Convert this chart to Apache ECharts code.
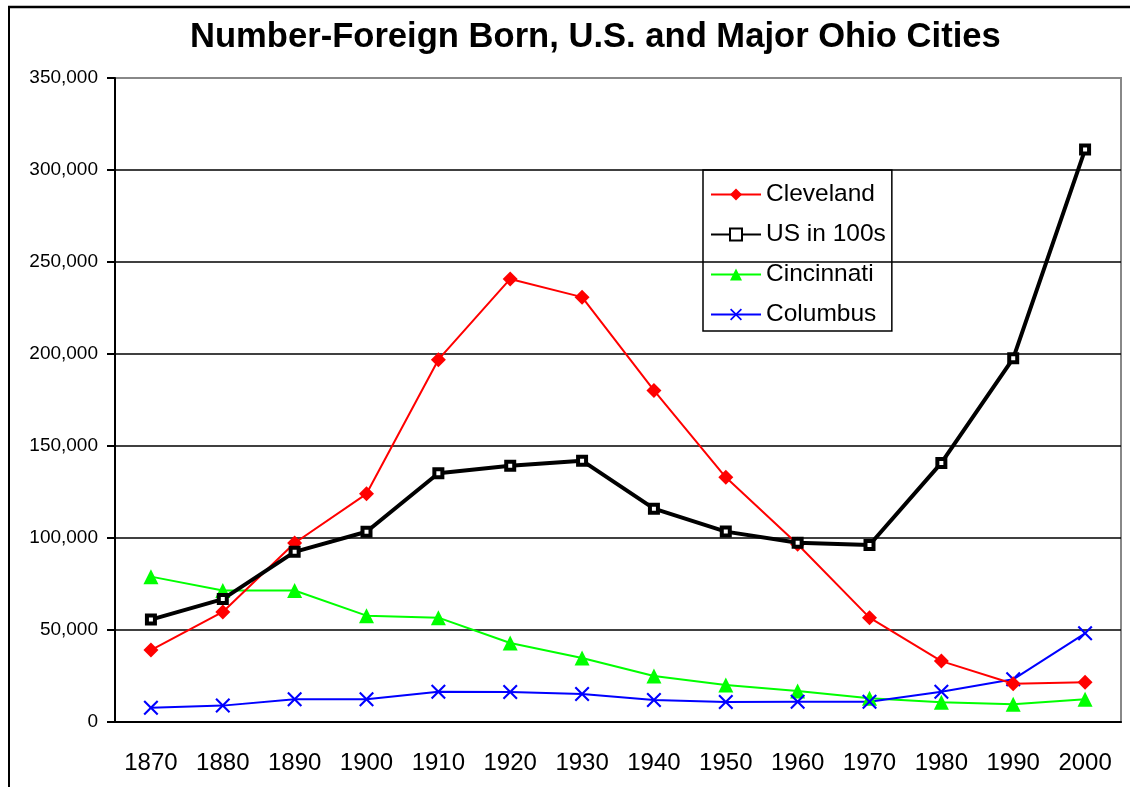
<!DOCTYPE html>
<html>
<head>
<meta charset="utf-8">
<title>Number-Foreign Born</title>
<script src="https://cdn.jsdelivr.net/npm/echarts@6/dist/echarts.min.js"></script>
<style>
    html, body { margin: 0; padding: 0; background: #fff; }
    #main { width: 1130px; height: 787px; }
</style>
</head>
<body>
<div id="main"></div>
<script>
let years = ['1870','1880','1890','1900','1910','1920','1930','1940','1950','1960','1970','1980','1990','2000'];
let cleveland = [39100, 59800, 97300, 124000, 196900, 240800, 230900, 180200, 133000, 96600, 56700, 33100, 20800, 21600];
let usIn100s = [55672, 66799, 92495, 103413, 135159, 139207, 142041, 115949, 103474, 97381, 96193, 140799, 197673, 311079];
let cincinnati = [79000, 71500, 71500, 57800, 56700, 42900, 34800, 25000, 20100, 16800, 12900, 10700, 9600, 12300];
let columbus = [7800, 8900, 12300, 12300, 16500, 16300, 15200, 12000, 10900, 11000, 11000, 16500, 23200, 48200];
let yTicks = [0, 50000, 100000, 150000, 200000, 250000, 300000, 350000];

let dom = document.getElementById("main");
let myChart = echarts.init(dom);
let font = '"Liberation Sans", Arial, sans-serif';
let crossPath = 'path://M0,1L1,0L5,4L9,0L10,1L6,5L10,9L9,10L5,6L1,10L0,9L4,5Z';

let option = {
    animation: false,
    backgroundColor: '#fff',
    title: {
        text: 'Number-Foreign Born, U.S. and Major Ohio Cities',
        left: 185,
        top: 15,
        textStyle: {
            fontFamily: font,
            fontSize: 34.6,
            fontWeight: 'bold',
            color: '#000'
        }
    },
    legend: {
        orient: 'vertical',
        left: 703,
        top: 170,
        padding: [12, 6, 4, 7],
        itemGap: 15,
        itemWidth: 50,
        itemHeight: 15,
        borderColor: '#000',
        borderWidth: 1.5,
        textStyle: { fontFamily: font, fontSize: 24.5, color: '#000' },
        data: ['Cleveland', 'US in 100s', 'Cincinnati', 'Columbus']
    },
    grid: {
        left: 115,
        right: 9,
        top: 78,
        bottom: 65,
        show: true,
        borderColor: '#888',
        borderWidth: 2
    },
    xAxis: {
        type: 'category',
        data: years,
        boundaryGap: true,
        axisLine: { lineStyle: { color: '#000', width: 2 } },
        axisTick: { length: 9, lineStyle: { color: '#000', width: 2 } },
        axisLabel: { fontFamily: font, fontSize: 24, color: '#000', margin: 29 },
        splitLine: { show: false }
    },
    yAxis: {
        type: 'value',
        min: yTicks[0],
        max: yTicks[yTicks.length - 1],
        interval: 50000,
        axisLine: { show: true, lineStyle: { color: '#000', width: 2 } },
        axisTick: { show: true, length: 8, lineStyle: { color: '#000', width: 2 } },
        axisLabel: {
            fontFamily: font,
            fontSize: 19,
            color: '#000',
            margin: 17,
            formatter: function (v) { return v.toLocaleString('en-US'); }
        },
        splitLine: {
            lineStyle: {
                color: ['#000','#000','#000','#000','#000','#000','#000','#888'],
                width: 1.5
            }
        }
    },
    series: [
        {
            name: 'Cleveland',
            type: 'line',
            data: cleveland,
            symbol: 'diamond',
            symbolSize: 15,
            z: 3,
            lineStyle: { color: '#ff0000', width: 2 },
            itemStyle: { color: '#ff0000' }
        },
        {
            name: 'US in 100s',
            type: 'line',
            data: usIn100s,
            symbol: 'rect',
            symbolSize: 8,
            z: 4,
            lineStyle: { color: '#000', width: 4 },
            itemStyle: { color: '#fff', borderColor: '#000', borderWidth: 4 }
        },
        {
            name: 'Cincinnati',
            type: 'line',
            data: cincinnati,
            symbol: 'triangle',
            symbolSize: 15,
            z: 2,
            lineStyle: { color: '#00ff00', width: 2 },
            itemStyle: { color: '#00ff00' }
        },
        {
            name: 'Columbus',
            type: 'line',
            data: columbus,
            symbol: crossPath,
            symbolSize: 15,
            z: 2,
            lineStyle: { color: '#0000ff', width: 2 },
            itemStyle: { color: '#0000ff' }
        }
    ],
    graphic: [
        { type: 'line', shape: { x1: 9, y1: 6, x2: 9, y2: 787 }, style: { stroke: '#000', lineWidth: 2 } },
        { type: 'line', shape: { x1: 8, y1: 7, x2: 1130, y2: 7 }, style: { stroke: '#000', lineWidth: 2.5 } }
    ]
};

myChart.setOption(option, true);
window.addEventListener("resize", function () {
    myChart.resize();
});
</script>
</body>
</html>
